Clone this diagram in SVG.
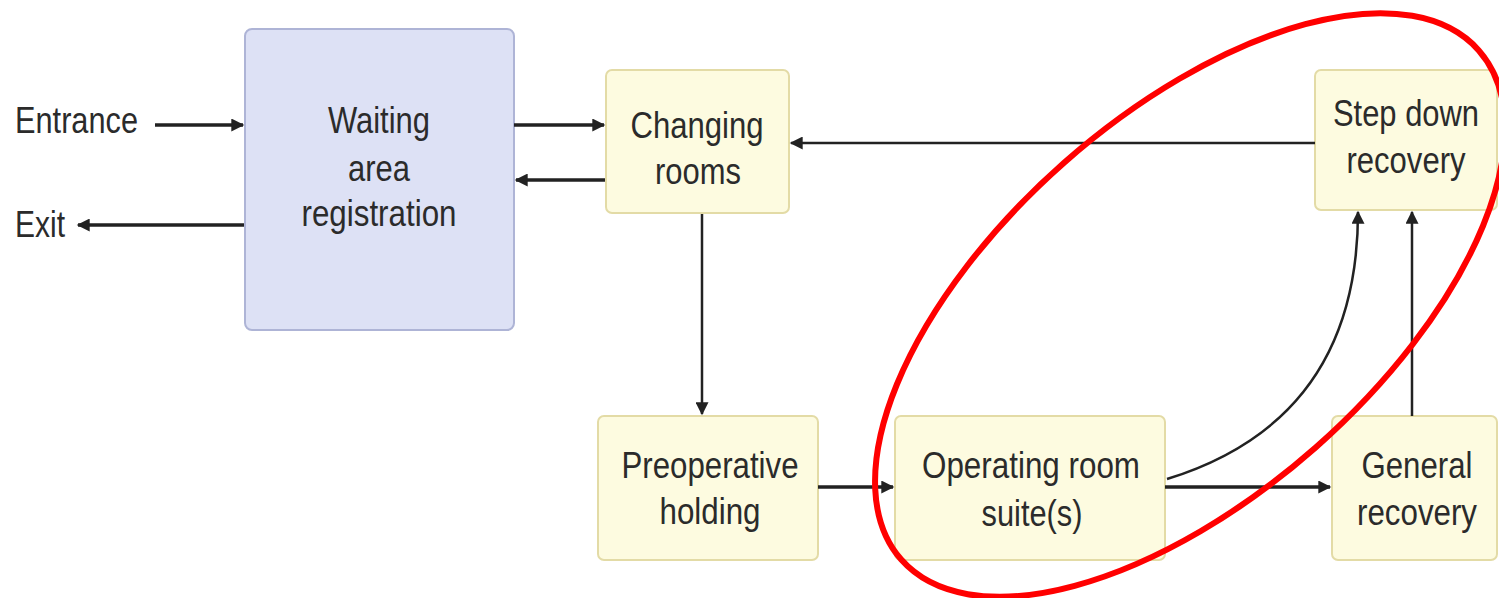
<svg xmlns="http://www.w3.org/2000/svg" width="1499" height="598" viewBox="0 0 1499 598">
<style>
.y{fill:#fdfbe0;stroke:#e3dba6;stroke-width:2}
.b{fill:#dde1f5;stroke:#aeb4d6;stroke-width:2}
.t{font-family:"Liberation Sans",Arial,sans-serif;font-size:36px;fill:#2b2b2b;text-anchor:middle}
.l{font-family:"Liberation Sans",Arial,sans-serif;font-size:36px;fill:#2b2b2b}
.c{fill:none;stroke:#222;stroke-width:3.5}
.v{fill:none;stroke:#222;stroke-width:2.5}
</style>
<defs>
<marker id="ah" viewBox="0 0 10 10" refX="9" refY="5" markerWidth="15" markerHeight="13" markerUnits="userSpaceOnUse" orient="auto">
<path d="M0,0 L10,5 L0,10 z" fill="#222"/>
</marker>
</defs>
<rect width="1499" height="598" fill="#fff"/>
<g id="entrance"><text class="l" x="15" y="133" textLength="123" lengthAdjust="spacingAndGlyphs">Entrance</text></g>
<g id="exit"><text class="l" x="15" y="237" textLength="50" lengthAdjust="spacingAndGlyphs">Exit</text></g>
<g id="waiting">
<rect class="b" x="245" y="29" width="269" height="301" rx="7"/>
<text class="t" x="379" y="133" textLength="102" lengthAdjust="spacingAndGlyphs">Waiting</text>
<text class="t" x="379" y="181" textLength="62" lengthAdjust="spacingAndGlyphs">area</text>
<text class="t" x="379" y="226" textLength="155" lengthAdjust="spacingAndGlyphs">registration</text>
</g>
<g id="changing">
<rect class="y" x="606" y="70" width="183" height="143" rx="6"/>
<text class="t" x="697" y="138" textLength="133" lengthAdjust="spacingAndGlyphs">Changing</text>
<text class="t" x="698" y="184" textLength="86" lengthAdjust="spacingAndGlyphs">rooms</text>
</g>
<g id="stepdown">
<rect class="y" x="1315" y="70" width="182" height="140" rx="6"/>
<text class="t" x="1406" y="126" textLength="146" lengthAdjust="spacingAndGlyphs">Step down</text>
<text class="t" x="1406" y="173" textLength="119" lengthAdjust="spacingAndGlyphs">recovery</text>
</g>
<g id="preop">
<rect class="y" x="598" y="416" width="220" height="144" rx="6"/>
<text class="t" x="710" y="478" textLength="177" lengthAdjust="spacingAndGlyphs">Preoperative</text>
<text class="t" x="710" y="524" textLength="101" lengthAdjust="spacingAndGlyphs">holding</text>
</g>
<g id="operating">
<rect class="y" x="895" y="416" width="270" height="144" rx="6"/>
<text class="t" x="1031" y="478" textLength="218" lengthAdjust="spacingAndGlyphs">Operating room</text>
<text class="t" x="1032" y="526" textLength="101" lengthAdjust="spacingAndGlyphs">suite(s)</text>
</g>
<g id="general">
<rect class="y" x="1332" y="416" width="165" height="144" rx="6"/>
<text class="t" x="1417" y="478" textLength="111" lengthAdjust="spacingAndGlyphs">General</text>
<text class="t" x="1417" y="525" textLength="120" lengthAdjust="spacingAndGlyphs">recovery</text>
</g>
<g id="connectors">
<path class="c" d="M155,125 H243" marker-end="url(#ah)"/>
<path class="c" d="M244,225 H78" marker-end="url(#ah)"/>
<path class="c" d="M514,125 H604" marker-end="url(#ah)"/>
<path class="c" d="M605,180 H516" marker-end="url(#ah)"/>
<path class="v" d="M1315,143 H791" marker-end="url(#ah)"/>
<path class="v" d="M702,214 V414" marker-end="url(#ah)"/>
<path class="c" d="M818,487 H893" marker-end="url(#ah)"/>
<path class="c" d="M1165,487 H1330" marker-end="url(#ah)"/>
<path class="v" d="M1167,479 Q1358,420 1358,212" marker-end="url(#ah)"/>
<path class="v" d="M1412,416 V212" marker-end="url(#ah)"/>
</g>
<g id="highlight">
<ellipse cx="1190" cy="305" rx="385" ry="190" transform="rotate(-41.4 1190 305)" fill="none" stroke="#f00" stroke-width="6"/>
</g>
</svg>
